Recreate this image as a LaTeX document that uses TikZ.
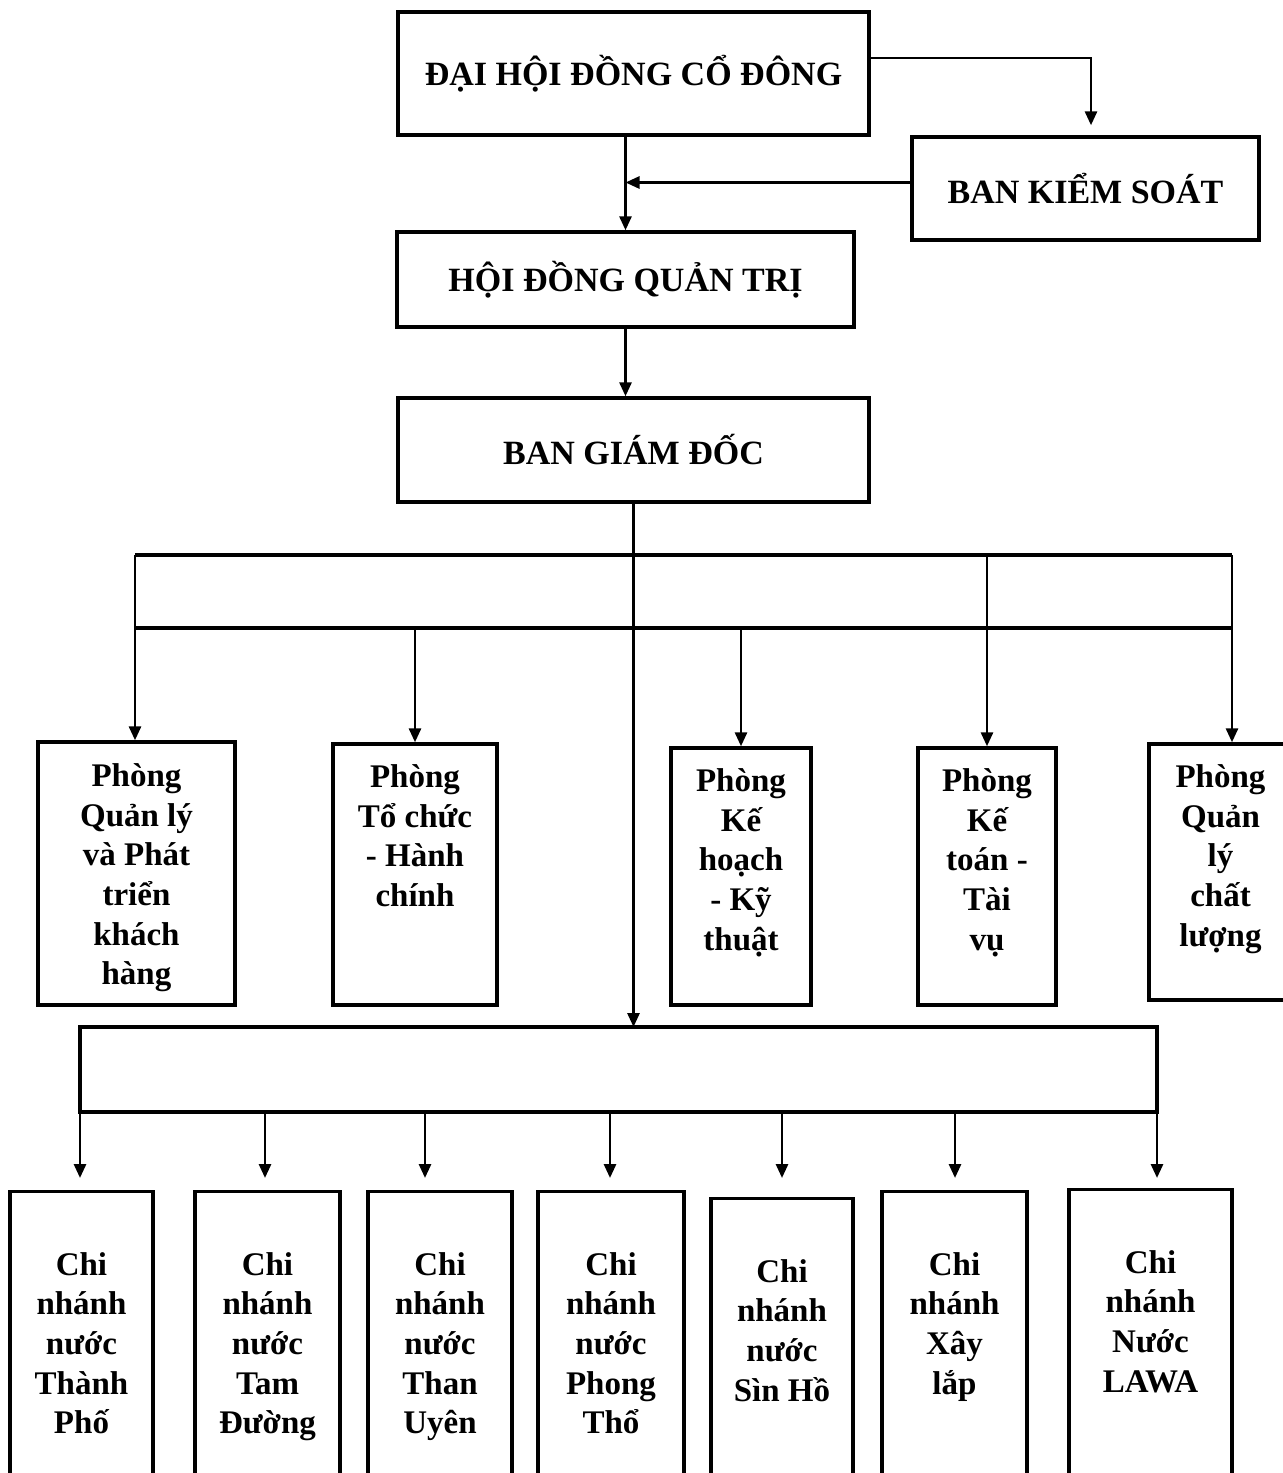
\documentclass[tikz,border=0pt]{standalone}
\usepackage{fontspec}
\setmainfont{Liberation Serif}
\usetikzlibrary{arrows.meta,positioning,calc}

\begin{document}
\begin{tikzpicture}[x=0.5pt, y=-0.5pt,
  every node/.style={font=\bfseries\fontsize{16.5}{19.8}\selectfont},
  box/.style={rectangle, draw=black, line width=1.7pt, inner sep=0pt},
  head/.style={box, font=\bfseries\fontsize{17}{20}\selectfont},
  lbl/.style={inner sep=0pt, align=center, anchor=north},
  ar/.style={-{Triangle[length=7pt,width=6pt]}, line width=1.4pt},
  bus/.style={line width=1.6pt}
]
\clip (0,0) rectangle (1283,1473);
\fill[white] (0,0) rectangle (1283,1473);

% management levels
\node[head, minimum width=235.5pt, minimum height=61.5pt] (dhdcd) at (633.5,73.5) {ĐẠI HỘI ĐỒNG CỔ ĐÔNG};
\node[head, minimum width=173.5pt, minimum height=51.5pt] (bks) at (1085.5,188.5) {BAN KIỂM SOÁT};
\node[head, minimum width=228.5pt, minimum height=47.5pt] (hdqt) at (625.5,279.5) {HỘI ĐỒNG QUẢN TRỊ};
\node[head, minimum width=235.5pt, minimum height=52pt] (bgd) at (633.5,450) {BAN GIÁM ĐỐC};

% departments
\node[box, minimum width=98.5pt, minimum height=131.5pt] (pqlkh) at (136.5,873.5) {};
\node[box, minimum width=82pt, minimum height=130.5pt] (pttc) at (415,874.5) {};
\node[box, minimum width=70pt, minimum height=128.5pt] (pkhkt) at (741,876.5) {};
\node[box, minimum width=69pt, minimum height=128.5pt] (pktv) at (987,876.5) {};
\node[box, minimum width=71.5pt, minimum height=128pt] (pqlcl) at (1220.5,872) {};

\node[lbl] (pqlkh-t) at ([yshift=-11.5pt]pqlkh.north) {Phòng\\Quản lý\\và Phát\\triển\\khách\\hàng};
\node[lbl] (pttc-t) at ([yshift=-11pt]pttc.north) {Phòng\\Tổ chức\\- Hành\\chính};
\node[lbl] (pkhkt-t) at ([yshift=-11pt]pkhkt.north) {Phòng\\Kế\\hoạch\\- Kỹ\\thuật};
\node[lbl] (pktv-t) at ([yshift=-11pt]pktv.north) {Phòng\\Kế\\toán -\\Tài\\vụ};
\node[lbl] (pqlcl-t) at ([yshift=-11pt]pqlcl.north) {Phòng\\Quản\\lý\\chất\\lượng};

% branches
\node[box, anchor=north, minimum width=71.5pt, minimum height=160pt] (cntp) at (81.5,1190) {};
\node[box, anchor=north, minimum width=72.5pt, minimum height=160pt] (cntd) at (267.5,1190) {};
\node[box, anchor=north, minimum width=72pt, minimum height=160pt] (cntu) at (440,1190) {};
\node[box, anchor=north, minimum width=73pt, minimum height=160pt] (cnpt) at (611,1190) {};
\node[box, anchor=north, minimum width=71pt, minimum height=160pt] (cnsh) at (782,1197) {};
\node[box, anchor=north, minimum width=72.5pt, minimum height=160pt] (cnxl) at (954.5,1190) {};
\node[box, anchor=north, minimum width=81.5pt, minimum height=160pt] (cnlw) at (1150.5,1188) {};

\node[lbl] (cntp-t) at ([yshift=-31pt]cntp.north) {Chi\\nhánh\\nước\\Thành\\Phố};
\node[lbl] (cntd-t) at ([yshift=-31pt]cntd.north) {Chi\\nhánh\\nước\\Tam\\Đường};
\node[lbl] (cntu-t) at ([yshift=-31pt]cntu.north) {Chi\\nhánh\\nước\\Than\\Uyên};
\node[lbl] (cnpt-t) at ([yshift=-31pt]cnpt.north) {Chi\\nhánh\\nước\\Phong\\Thổ};
\node[lbl] (cnsh-t) at ([yshift=-31pt]cnsh.north) {Chi\\nhánh\\nước\\Sìn Hồ};
\node[lbl] (cnxl-t) at ([yshift=-31pt]cnxl.north) {Chi\\nhánh\\Xây\\lắp};
\node[lbl] (cnlw-t) at ([yshift=-31pt]cnlw.north) {Chi\\nhánh\\Nước\\LAWA};

% top links
\draw[ar, shorten >=5pt] ([yshift=7.75pt]dhdcd.east) -| ([xshift=2.75pt]bks.north);
\draw[ar] (hdqt.north |- dhdcd.south) -- (hdqt.north);
\draw[ar] ([yshift=3pt]bks.west) -- ([yshift=3pt]bks.west -| hdqt.north);
\draw[ar] (hdqt.south) -- (bgd.north -| hdqt.south);

% department bus
\coordinate (ba1) at (135,555);
\coordinate (ba2) at (1232,555);
\coordinate (bb1) at (135,628);
\coordinate (bb2) at (1232,628);
\draw[bus] (ba1) -- (ba2);
\draw[bus] (bb1) -- (bb2);
\draw[ar] (ba1) -- (ba1 |- pqlkh.north);
\draw[ar] (ba2) -- (ba2 |- pqlcl.north);
\draw[ar] (pttc.north |- bb1) -- (pttc.north);
\draw[ar] (pkhkt.north |- bb1) -- (pkhkt.north);
\draw[ar] (pktv.north |- ba1) -- (pktv.north);

% branch bus
\coordinate (bc1) at (80,1027);
\coordinate (bd2) at (1157,1112);
\draw[bus] (bc1) rectangle (bd2);
\draw[ar] (bgd.south) -- (bgd.south |- bc1);
\foreach \x/\n in {80/cntp,265/cntd,425/cntu,610/cnpt,782/cnsh,955/cnxl,1157/cnlw}{
  \coordinate (\n-in) at (\x,1112);
  \draw[ar, shorten >=6pt] (\n-in) -- (\n-in |- cntp.north);
}
\end{tikzpicture}
\end{document}
